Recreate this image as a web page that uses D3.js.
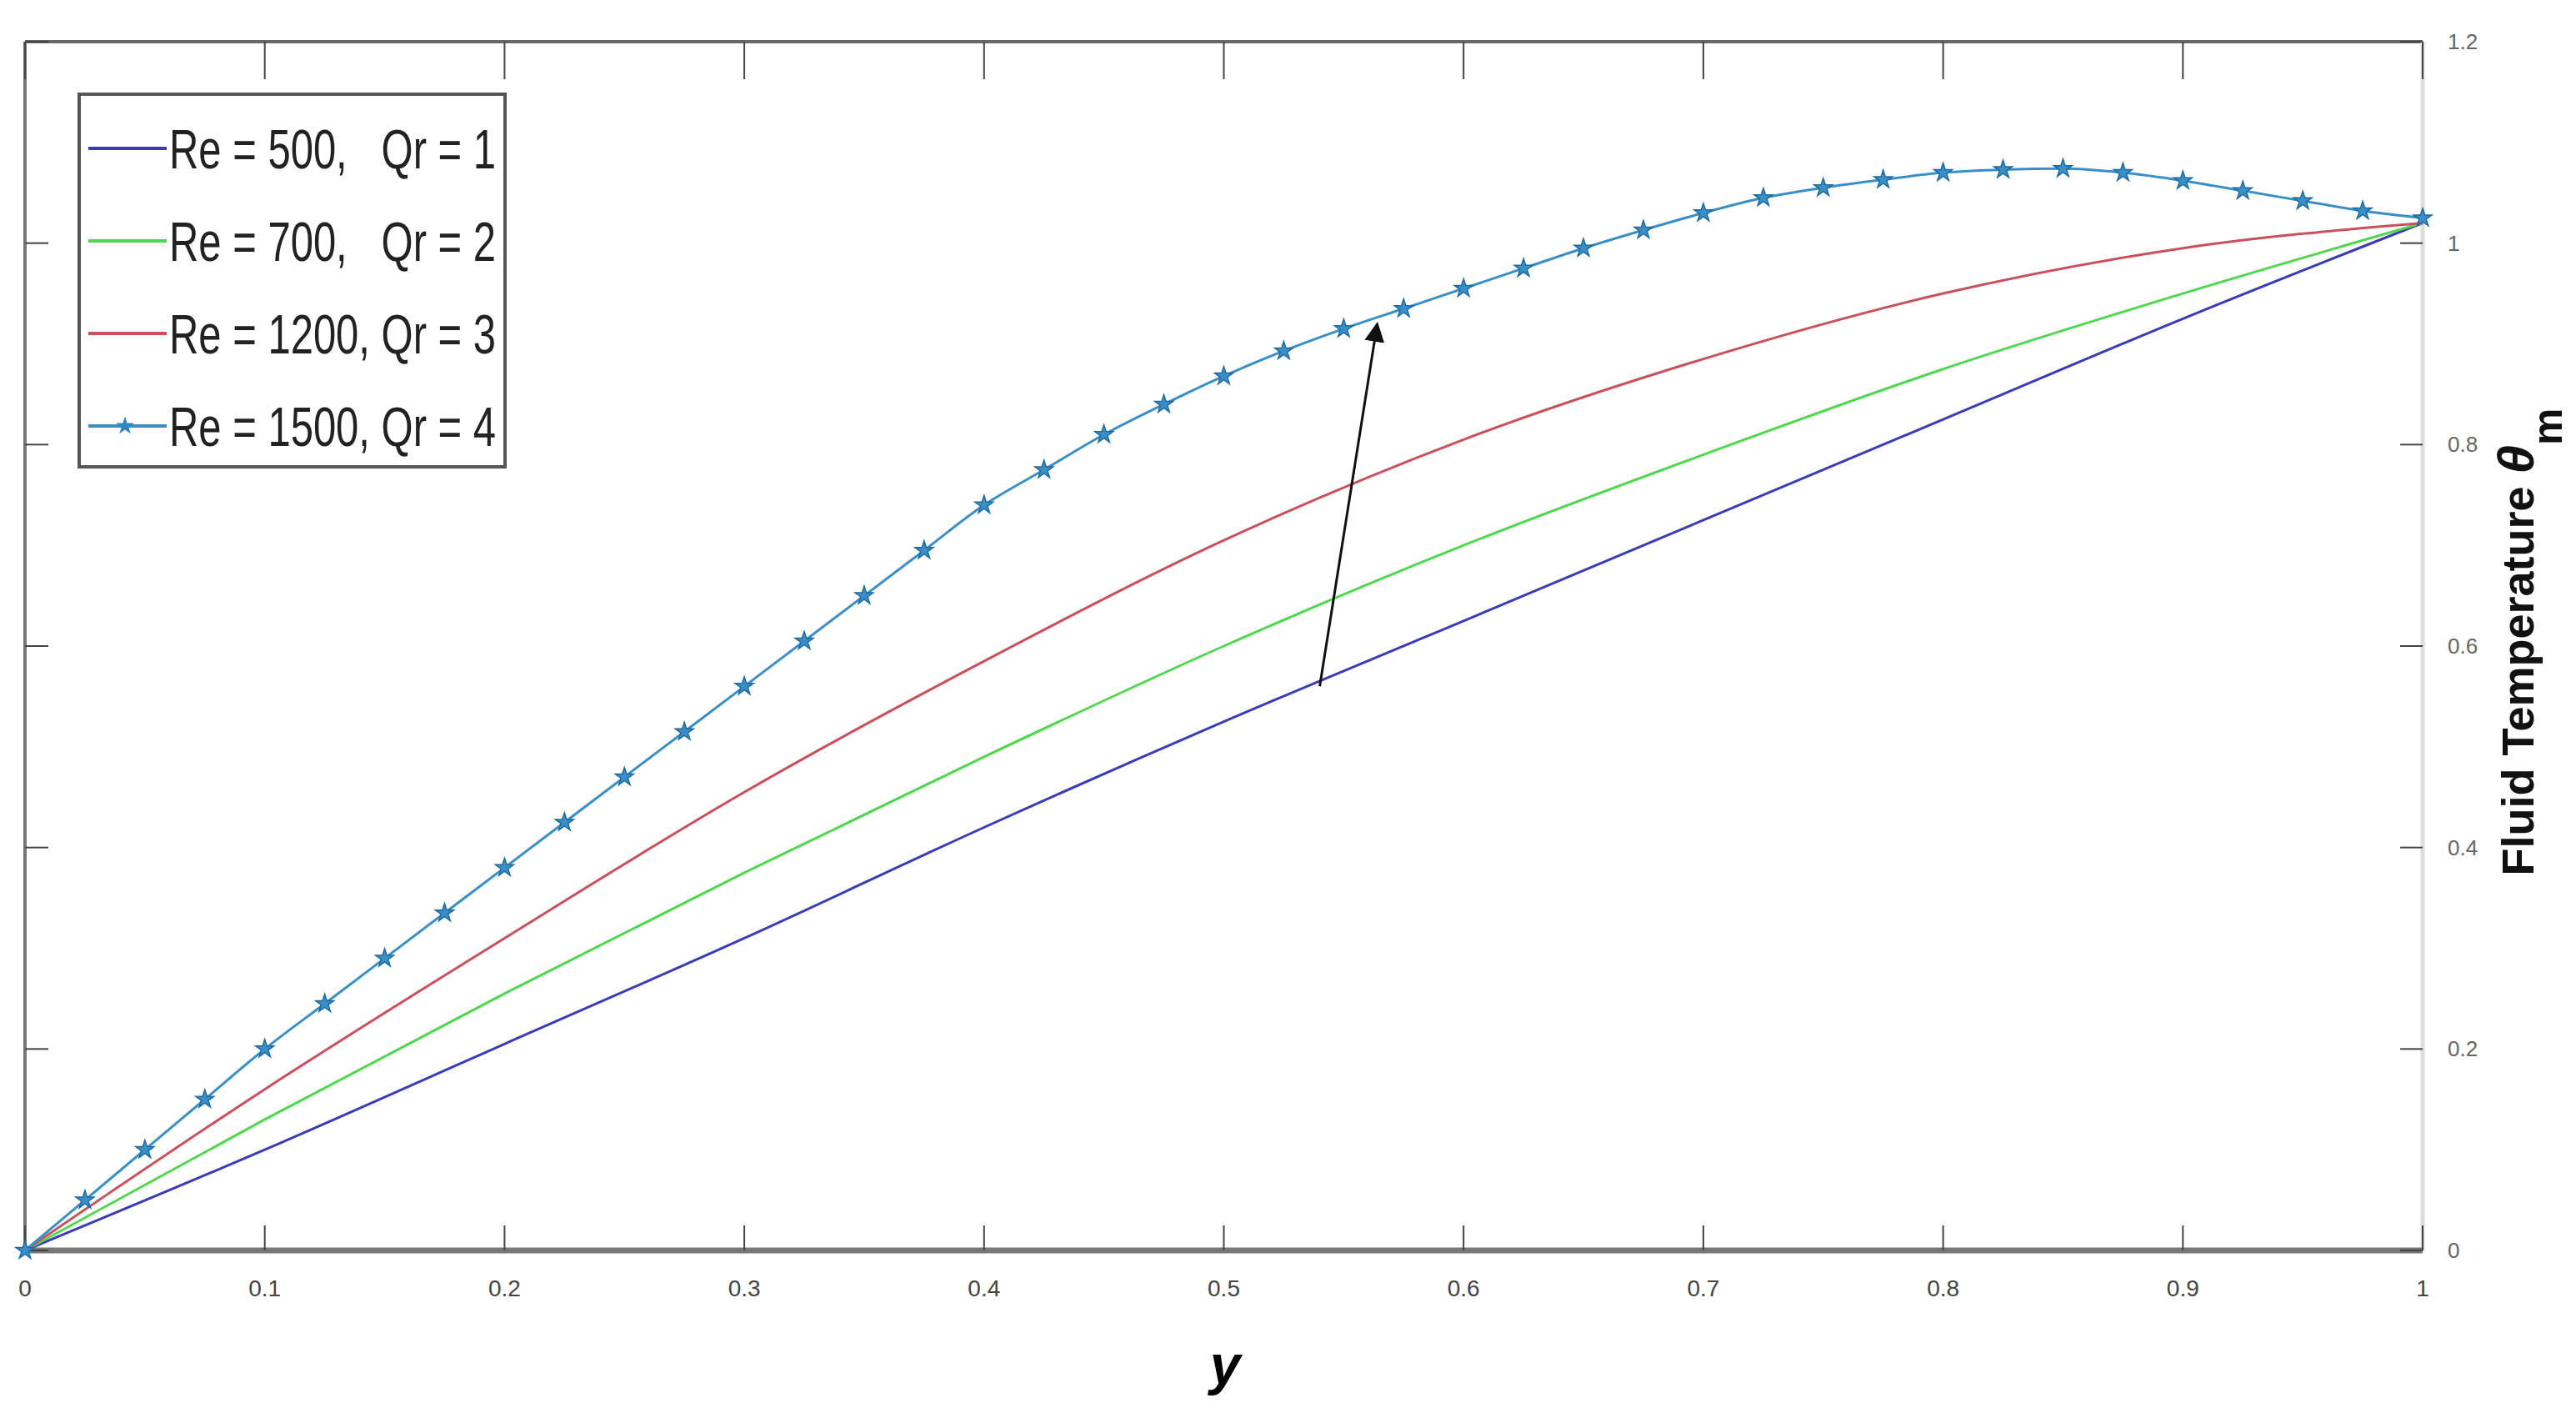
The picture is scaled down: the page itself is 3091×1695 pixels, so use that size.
<!DOCTYPE html>
<html><head><meta charset="utf-8">
<script src="https://cdn.jsdelivr.net/npm/d3@7"></script>
<style>body{margin:0;background:#fff}</style>
</head><body>
<svg id="chart" width="3091" height="1695"></svg>
<script>
var xs10 = [0, 0.1, 0.2, 0.3, 0.4, 0.5, 0.6, 0.7, 0.8, 0.9, 1];
var re500 = [0, 0.10, 0.205, 0.31, 0.42, 0.525, 0.625, 0.725, 0.825, 0.925, 1.02];
var re700 = [0, 0.13, 0.255, 0.375, 0.49, 0.60, 0.70, 0.79, 0.875, 0.95, 1.02];
var re1200 = [0, 0.16, 0.31, 0.455, 0.585, 0.705, 0.805, 0.885, 0.95, 0.995, 1.02];
var xs40 = d3.range(41).map(i => i / 40);
var re1500 = [0, .05, .1, .15, .2, .245, .29, .335, .38, .425, .47, .515, .56, .605, .65, .695, .74, .775, .81, .84, .868, .893, .915, .935, .955, .975, .995, 1.013, 1.03, 1.045, 1.055, 1.063, 1.07, 1.073, 1.074, 1.07, 1.062, 1.052, 1.042, 1.032, 1.025];
var labels = ["Re = 500,   Qr = 1", "Re = 700,   Qr = 2", "Re = 1200, Qr = 3", "Re = 1500, Qr = 4"];
var colors = ["#3b3bb8", "#4fd84f", "#c9505c", "#3a8fc6"];
var xTicks = [0, 0.1, 0.2, 0.3, 0.4, 0.5, 0.6, 0.7, 0.8, 0.9, 1];
var yTicks = [0, 0.2, 0.4, 0.6, 0.8, 1, 1.2];

var svg = d3.select("#chart");
var x = d3.scaleLinear().domain([0, 1]).range([30, 2907]);
var y = d3.scaleLinear().domain([0, 1.2]).range([1500, 50]);

// frame
svg.append("line").attr("x1", 30).attr("x2", 2907).attr("y1", 50).attr("y2", 50).attr("stroke", "#666").attr("stroke-width", 4);
svg.append("line").attr("x1", 30).attr("x2", 30).attr("y1", 50).attr("y2", 1500).attr("stroke", "#777").attr("stroke-width", 4);
svg.append("line").attr("x1", 2907).attr("x2", 2907).attr("y1", 50).attr("y2", 1500).attr("stroke", "#ddd").attr("stroke-width", 5);
svg.append("line").attr("x1", 30).attr("x2", 2907).attr("y1", 1500).attr("y2", 1500).attr("stroke", "#777").attr("stroke-width", 7);

// ticks
xTicks.forEach(function(t) {
  svg.append("line").attr("x1", x(t)).attr("x2", x(t)).attr("y1", 1500).attr("y2", 1470).attr("stroke", "#444").attr("stroke-width", 2);
  svg.append("line").attr("x1", x(t)).attr("x2", x(t)).attr("y1", 50).attr("y2", 95).attr("stroke", "#444").attr("stroke-width", 2);
  svg.append("text").attr("x", x(t)).attr("y", 1555).attr("text-anchor", "middle")
    .attr("font-family", "Liberation Sans Narrow, Liberation Sans, sans-serif").attr("font-size", 28).attr("fill", "#444")
    .text(t);
});
yTicks.forEach(function(t) {
  svg.append("line").attr("x1", 30).attr("x2", 58).attr("y1", y(t)).attr("y2", y(t)).attr("stroke", "#444").attr("stroke-width", 2);
  svg.append("line").attr("x1", 2880).attr("x2", 2907).attr("y1", y(t)).attr("y2", y(t)).attr("stroke", "#444").attr("stroke-width", 2);
  svg.append("text").attr("x", 2937).attr("y", y(t) + 9).attr("text-anchor", "start")
    .attr("font-family", "Liberation Sans, sans-serif").attr("font-size", 26).attr("fill", "#666")
    .text(t);
});

// curves
var line = d3.line().x(d => x(d[0])).y(d => y(d[1])).curve(d3.curveMonotoneX);
[re500, re700, re1200].forEach(function(s, i) {
  svg.append("path").datum(xs10.map((v, j) => [v, s[j]])).attr("d", line)
    .attr("fill", "none").attr("stroke", colors[i]).attr("stroke-width", 3);
});
var cyanData = xs40.map((v, j) => [v, re1500[j]]);
svg.append("path").datum(cyanData).attr("d", line)
  .attr("fill", "none").attr("stroke", colors[3]).attr("stroke-width", 3);
var star = d3.symbol().type(d3.symbolStar).size(150);
svg.selectAll(".star").data(cyanData).join("path").attr("class", "star")
  .attr("transform", d => "translate(" + x(d[0]) + "," + y(d[1]) + ")")
  .attr("d", star).attr("fill", "#3a8fc6").attr("stroke", "#1f6aa0").attr("stroke-width", 1.5);

// arrow
svg.append("defs").append("marker").attr("id", "ah").attr("viewBox", "0 0 10 10").attr("refX", 9).attr("refY", 5)
  .attr("markerWidth", 8).attr("markerHeight", 8).attr("orient", "auto")
  .append("path").attr("d", "M0,0L10,5L0,10z").attr("fill", "#111");
svg.append("line").attr("x1", x(0.54)).attr("y1", y(0.56)).attr("x2", x(0.564)).attr("y2", y(0.92))
  .attr("stroke", "#111").attr("stroke-width", 3).attr("marker-end", "url(#ah)");

// legend
svg.append("rect").attr("x", 95).attr("y", 113).attr("width", 511).attr("height", 447)
  .attr("fill", "#fff").attr("stroke", "#555").attr("stroke-width", 4);
labels.forEach(function(l, i) {
  var ly = 178 + i * 111;
  svg.append("line").attr("x1", 106).attr("x2", 200).attr("y1", ly).attr("y2", ly).attr("stroke", colors[i]).attr("stroke-width", 4);
  if (i === 3) svg.append("path").attr("transform", "translate(150," + ly + ")").attr("d", star).attr("fill", "#2e86c1");
  svg.append("text").attr("x", 203).attr("y", ly + 24).attr("xml:space", "preserve")
    .attr("font-family", "Liberation Sans Narrow, Liberation Sans, sans-serif").attr("font-size", 66).attr("fill", "#222")
    .attr("textLength", 392).attr("lengthAdjust", "spacingAndGlyphs")
    .text(l);
});

// axis labels
svg.append("text").attr("x", 1470).attr("y", 1660).attr("text-anchor", "middle")
  .attr("font-family", "Liberation Sans, sans-serif").attr("font-size", 66).attr("font-style", "italic").attr("font-weight", "bold")
  .text("y");
var yl = svg.append("text").attr("transform", "translate(3040,770) rotate(-90)").attr("text-anchor", "middle")
  .attr("font-family", "Liberation Sans, sans-serif").attr("font-size", 54).attr("font-weight", "bold").attr("fill", "#111");
yl.append("tspan").text("Fluid Temperature ");
yl.append("tspan").attr("font-style", "italic").attr("font-size", 62).text("θ");
yl.append("tspan").attr("dy", 34).attr("font-size", 50).text("m");
</script>
</body></html>
